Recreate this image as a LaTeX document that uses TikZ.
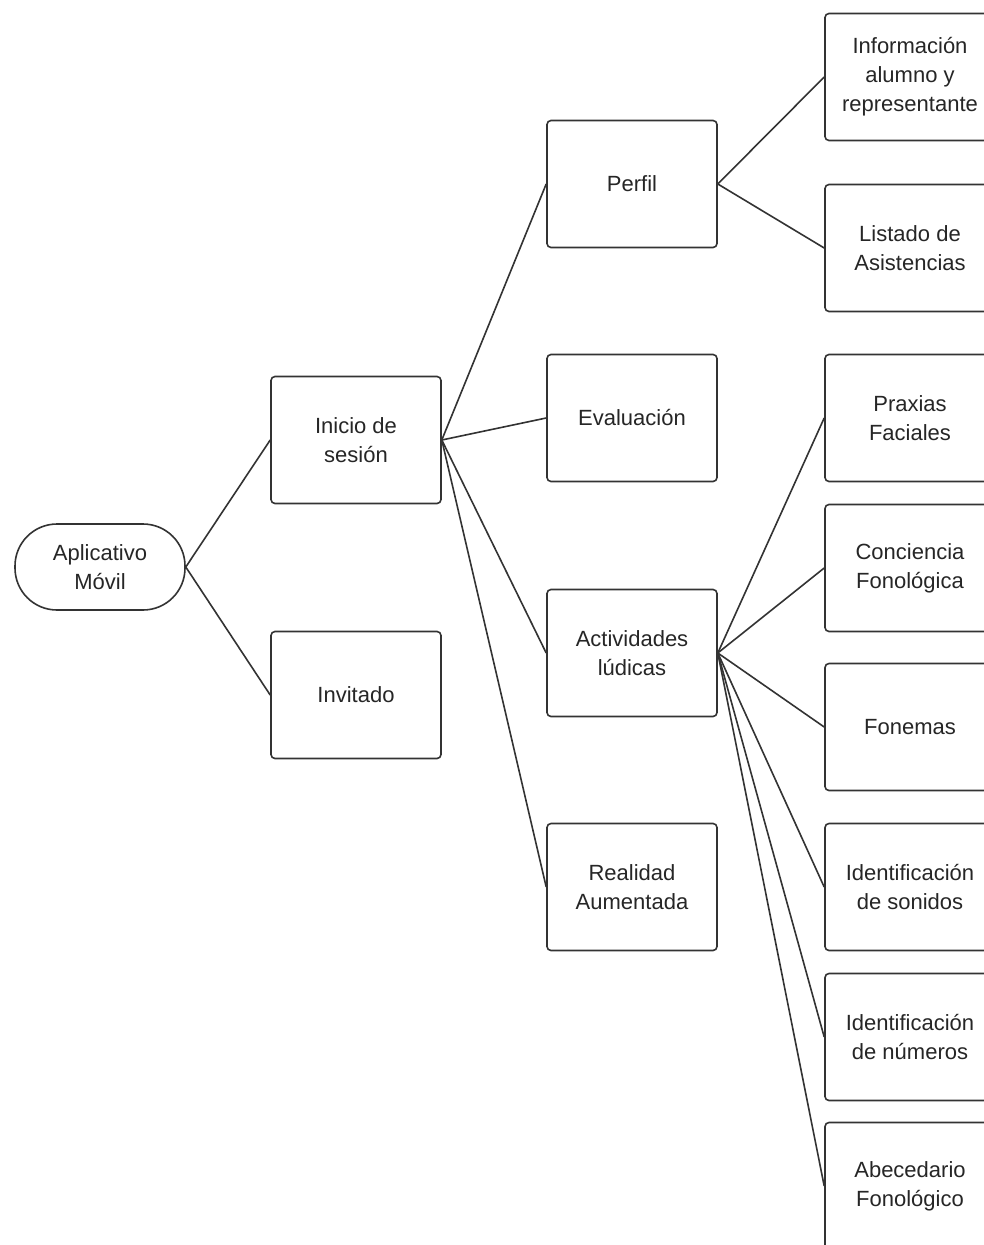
\documentclass[tikz,border=0pt]{standalone}
\usepackage{fontspec}
\setmainfont{Liberation Sans}
\begin{document}
\begin{tikzpicture}[x=1pt,y=-1pt,
  box/.style={draw=black!80,line width=1.6pt,rounded corners=4pt,minimum width=170pt,minimum height=127pt,align=center,inner sep=0pt,font=\fontsize{22}{29}\selectfont,text=black!85},
  pill/.style={draw=black!80,line width=1.6pt,rounded corners=42pt,minimum width=170pt,minimum height=86pt,align=center,inner sep=0pt,font=\fontsize{22}{29}\selectfont,text=black!85},
  link/.style={draw=black!80,line width=1.6pt}]
\useasboundingbox (0,0) rectangle (984,1245);
\fill[white] (0,0) rectangle (984,1245);
\node[pill] (app) at (100,567) {Aplicativo\\Móvil};
\node[box] (ini) at (356,440) {Inicio de\\sesión};
\node[box] (inv) at (356,695) {Invitado};
\node[box] (per) at (632,184) {Perfil};
\node[box] (eva) at (632,418) {Evaluación};
\node[box] (act) at (632,653) {Actividades\\lúdicas};
\node[box] (rea) at (632,887) {Realidad\\Aumentada};
\node[box] (inf) at (910,77) {Información\\alumno y\\representante};
\node[box] (lis) at (910,248) {Listado de\\Asistencias};
\node[box] (pra) at (910,418) {Praxias\\Faciales};
\node[box] (con) at (910,568) {Conciencia\\Fonológica};
\node[box] (fon) at (910,727) {Fonemas};
\node[box] (son) at (910,887) {Identificación\\de sonidos};
\node[box] (num) at (910,1037) {Identificación\\de números};
\node[box] (abe) at (910,1186) {Abecedario\\Fonológico};
\draw[link] (app.east) -- (ini.west);
\draw[link] (app.east) -- (inv.west);
\draw[link] (ini.east) -- (per.west);
\draw[link] (ini.east) -- (eva.west);
\draw[link] (ini.east) -- (act.west);
\draw[link] (ini.east) -- (rea.west);
\draw[link] (per.east) -- (inf.west);
\draw[link] (per.east) -- (lis.west);
\draw[link] (act.east) -- (pra.west);
\draw[link] (act.east) -- (con.west);
\draw[link] (act.east) -- (fon.west);
\draw[link] (act.east) -- (son.west);
\draw[link] (act.east) -- (num.west);
\draw[link] (act.east) -- (abe.west);
\end{tikzpicture}
\end{document}
